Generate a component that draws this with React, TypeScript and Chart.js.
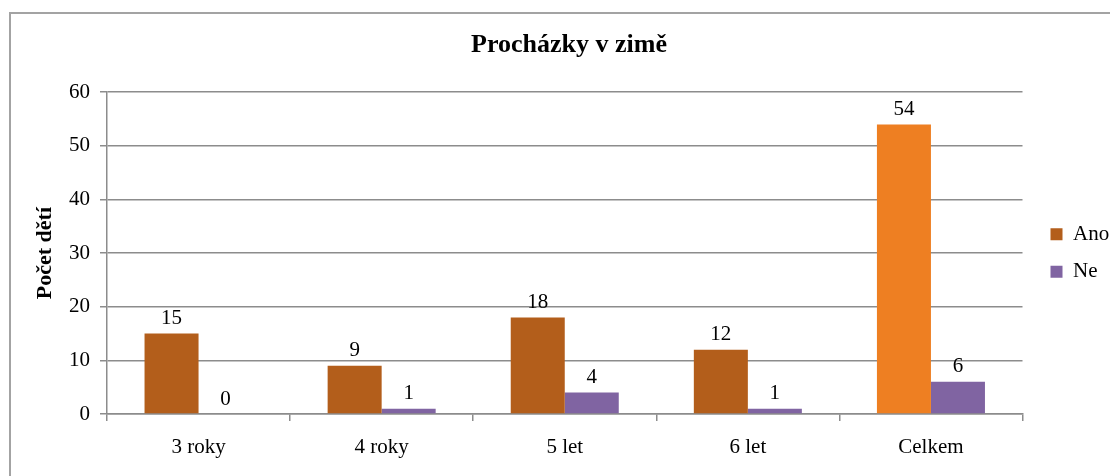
import React, { useEffect, useRef } from 'react';
import { Chart, registerables } from 'chart.js';

Chart.register(...registerables);

const categories = ['3 roky', '4 roky', '5 let', '6 let', 'Celkem'];
const seriesNames = ['Ano', 'Ne'];
const anoValues = [15, 9, 18, 12, 54];
const neValues = [0, 1, 4, 1, 6];
const yTickValues = [0, 10, 20, 30, 40, 50, 60];
const titleText = 'Procházky v zimě';
const yAxisTitle = 'Počet dětí';

const FONT = "'Liberation Serif', 'Times New Roman', serif";
const ANO = '#B35E1B';
const ANO_TOTAL = '#EE7F22';
const NE = '#8064A2';
const GRID = '#8c8c8c';

const valueLabels = {
  id: 'valueLabels',
  afterDatasetsDraw(chart: any) {
    const ctx = chart.ctx;
    ctx.save();
    ctx.font = `21px ${FONT}`;
    ctx.fillStyle = '#000';
    ctx.textAlign = 'center';
    ctx.textBaseline = 'middle';
    chart.data.datasets.forEach((ds: any, di: number) => {
      const meta = chart.getDatasetMeta(di);
      meta.data.forEach((el: any, i: number) => {
        ctx.fillText(String(ds.data[i]), el.x, el.y - 15);
      });
    });
    ctx.restore();
  },
};

export default function App() {
  const canvasRef = useRef<HTMLCanvasElement | null>(null);

  useEffect(() => {
    const canvas = canvasRef.current;
    if (!canvas) return;
    const lastIndex = categories.length - 1;
    const chart = new Chart(canvas, {
      type: 'bar',
      data: {
        labels: categories,
        datasets: [
          {
            label: seriesNames[0],
            data: anoValues,
            backgroundColor: (c: any) =>
              c.type === 'data' && c.dataIndex === lastIndex ? ANO_TOTAL : ANO,
            categoryPercentage: 0.59,
            barPercentage: 1,
            borderWidth: 0,
          },
          {
            label: seriesNames[1],
            data: neValues,
            backgroundColor: NE,
            categoryPercentage: 0.59,
            barPercentage: 1,
            borderWidth: 0,
          },
        ],
      },
      options: {
        responsive: false,
        animation: false,
        devicePixelRatio: 1,
        layout: { padding: { top: 0, left: 28, right: 0, bottom: 0 } },
        plugins: {
          title: {
            display: true,
            text: titleText,
            color: '#000',
            font: { family: FONT, size: 26, weight: 'bold' },
            padding: { top: 30, bottom: 31 },
          },
          legend: {
            position: 'right',
            fullSize: false,
            maxWidth: 76,
            labels: {
              boxWidth: 12,
              boxHeight: 12,
              padding: 16.5,
              color: '#000',
              font: { family: FONT, size: 21 },
            },
          },
          tooltip: { enabled: false },
        },
        scales: {
          x: {
            grid: {
              offset: true,
              drawOnChartArea: false,
              tickLength: 7,
              color: GRID,
              lineWidth: 1.5,
            },
            border: { color: GRID, width: 1.5 },
            ticks: {
              color: '#000',
              padding: 14,
              font: { family: FONT, size: 21 },
            },
            afterFit: (s: any) => {
              s.height = 62;
            },
          },
          y: {
            min: yTickValues[0],
            max: yTickValues[yTickValues.length - 1],
            grid: { color: GRID, tickLength: 7, lineWidth: 1.5 },
            border: { color: GRID, width: 1.5 },
            ticks: {
              color: '#000',
              padding: 10,
              font: { family: FONT, size: 21 },
            },
            afterBuildTicks: (s: any) => {
              s.ticks = yTickValues.map((v) => ({ value: v }));
            },
            title: {
              display: true,
              text: yAxisTitle,
              color: '#000',
              font: { family: FONT, size: 22, weight: 'bold' },
              padding: { top: 4, bottom: 4 },
            },
            afterFit: (s: any) => {
              s.width = 79;
            },
          },
          yR: {
            type: 'linear',
            position: 'right',
            display: true,
            grid: { display: false },
            border: { display: false },
            ticks: { display: false },
            afterFit: (s: any) => {
              s.width = 11.5;
            },
          },
        },
      } as any,
      plugins: [valueLabels],
    });
    return () => chart.destroy();
  }, []);

  return (
    <div
      style={{
        position: 'fixed',
        left: 0,
        top: 0,
        width: 1110,
        height: 476,
        background: '#fff',
        overflow: 'hidden',
      }}
    >
      <canvas
        ref={canvasRef}
        width={1110}
        height={476}
        style={{ position: 'absolute', left: 0, top: 0, width: 1110, height: 476 }}
      />
      <div
        style={{
          position: 'absolute',
          left: 9,
          top: 12,
          width: 1200,
          height: 600,
          border: '2px solid #a3a3a3',
          pointerEvents: 'none',
        }}
      />
    </div>
  );
}
